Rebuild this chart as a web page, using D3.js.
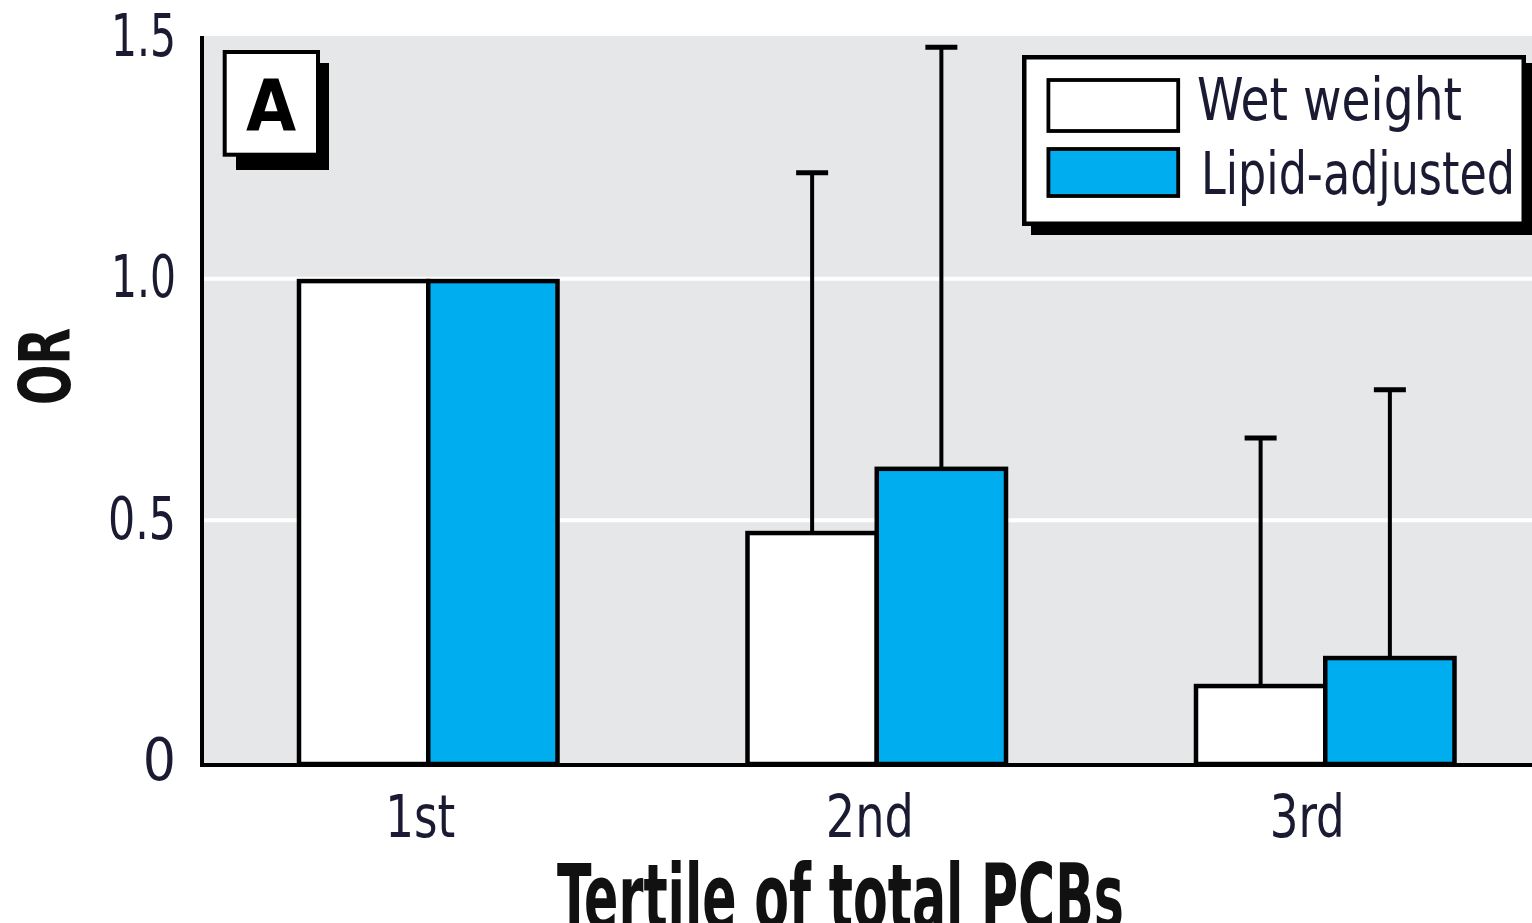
<!DOCTYPE html>
<html><head><meta charset="utf-8">
<script src="https://cdn.jsdelivr.net/npm/d3@7"></script>
<style>html,body{margin:0;padding:0;background:#fff;overflow:hidden}</style>
</head><body>
<svg id="c" width="1532" height="923"></svg>
<script>
// ---- data ----
const categories = ["1st", "2nd", "3rd"];
const series = ["Wet weight", "Lipid-adjusted"];
const wetWeight = [1.0, 0.478, 0.161];
const lipidAdjusted = [1.0, 0.611, 0.219];
const wetUpper = [null, 1.22, 0.67];
const lipidUpper = [null, 1.48, 0.77];
const yTicks = [0, 0.5, 1.0, 1.5];
const yTickLabels = ["0", "0.5", "1.0", "1.5"];
const gridValues = [0.5, 1.0];
const xTitle = "Tertile of total PCBs";
const yTitle = "OR";
const panelLabel = "A";

// ---- style ----
const FONT = "'Liberation Sans Narrow','DejaVu Sans Condensed','Arial Narrow',sans-serif";
const BLUE = "#00adee";
const GRAY = "#e6e7e9";
const TXT = "#1a1a33";
const sw = 4.5;
const yLabelWidths = [null, 68, 65, 65];   // text widths (style)
const xLabelWidths = [70, 88, 75];
const xLabelShift = [-8, -7, -18];

const svg = d3.select("#c");
const y = d3.scaleLinear().domain([0, 1.5]).range([761.5, 37.5]);
const x0 = d3.scaleBand().domain(categories).range([204, 1549.5])
  .paddingInner(0.4136).paddingOuter(0.2068);
const x1 = d3.scaleBand().domain(series).range([sw / 2, x0.bandwidth() - sw / 2]);
const fills = { "Wet weight": "#ffffff", "Lipid-adjusted": BLUE };
const values = { "Wet weight": wetWeight, "Lipid-adjusted": lipidAdjusted };
const uppers = { "Wet weight": wetUpper, "Lipid-adjusted": lipidUpper };

// plot background
svg.append("rect").attr("x", 204).attr("y", y(1.5) - 1.5)
  .attr("width", 1532 - 204).attr("height", 763 - (y(1.5) - 1.5)).attr("fill", GRAY);

// gridlines
svg.selectAll(".grid").data(gridValues).enter().append("line")
  .attr("x1", 204).attr("x2", 1532)
  .attr("y1", d => y(d)).attr("y2", d => y(d))
  .attr("stroke", "#fff").attr("stroke-width", 4);

const rows = [];
categories.forEach((c, i) => series.forEach(s => rows.push({ c, s, v: values[s][i], u: uppers[s][i] })));

// error bars
const eb = svg.append("g");
rows.filter(d => d.u != null).forEach(d => {
  const xc = x0(d.c) + x1(d.s) + x1.bandwidth() / 2;
  eb.append("line").attr("x1", xc).attr("x2", xc)
    .attr("y1", y(d.v) + sw).attr("y2", y(d.u))
    .attr("stroke", "#000").attr("stroke-width", 4);
  eb.append("line").attr("x1", xc - 16).attr("x2", xc + 16)
    .attr("y1", y(d.u)).attr("y2", y(d.u))
    .attr("stroke", "#000").attr("stroke-width", 5);
});

// bars
svg.append("g").selectAll("rect").data(rows).enter().append("rect")
  .attr("x", d => x0(d.c) + x1(d.s))
  .attr("y", d => y(d.v) + sw / 2)
  .attr("width", x1.bandwidth())
  .attr("height", d => 764 - (y(d.v) + sw / 2))
  .attr("fill", d => fills[d.s])
  .attr("stroke", "#000").attr("stroke-width", sw);

// axis lines
svg.append("line").attr("x1", 202).attr("x2", 202).attr("y1", 36).attr("y2", 767)
  .attr("stroke", "#000").attr("stroke-width", 4);
svg.append("line").attr("x1", 200).attr("x2", 1532).attr("y1", 765).attr("y2", 765)
  .attr("stroke", "#000").attr("stroke-width", 4);

// y axis ticks
const yAxis = svg.append("g").attr("transform", "translate(202,0)")
  .call(d3.axisLeft(y).tickValues(yTicks).tickFormat((d, i) => yTickLabels[i])
    .tickSize(0).tickPadding(26));
yAxis.select(".domain").remove();
yAxis.selectAll("text").attr("font-family", FONT).attr("font-size", 58)
  .attr("fill", TXT).attr("dy", "0.31em")
  .each(function (d, i) {
    if (yLabelWidths[i]) d3.select(this).attr("textLength", yLabelWidths[i]).attr("lengthAdjust", "spacingAndGlyphs");
  });

// x axis ticks
const xAxis = svg.append("g").attr("transform", "translate(0,765)")
  .call(d3.axisBottom(x0).tickSize(0).tickPadding(31));
xAxis.select(".domain").remove();
xAxis.selectAll("text").attr("font-family", FONT).attr("font-size", 58)
  .attr("fill", TXT)
  .attr("dx", (d, i) => xLabelShift[i])
  .attr("textLength", (d, i) => xLabelWidths[i]).attr("lengthAdjust", "spacingAndGlyphs");

// axis titles
svg.append("text").attr("x", 840.5).attr("y", 929).attr("text-anchor", "middle")
  .attr("font-family", FONT).attr("font-weight", "bold").attr("font-size", 90)
  .attr("textLength", 567).attr("lengthAdjust", "spacingAndGlyphs")
  .attr("fill", "#111").text(xTitle);
svg.append("text").attr("transform", "translate(70,366.5) rotate(-90)")
  .attr("text-anchor", "middle")
  .attr("font-family", FONT).attr("font-weight", "bold").attr("font-size", 72)
  .attr("textLength", 77).attr("lengthAdjust", "spacingAndGlyphs")
  .attr("fill", "#111").text(yTitle);

// panel label
svg.append("rect").attr("x", 236).attr("y", 63).attr("width", 93).attr("height", 107).attr("fill", "#000");
svg.append("rect").attr("x", 224.7).attr("y", 52).attr("width", 93.3).attr("height", 102.7)
  .attr("fill", "#fff").attr("stroke", "#000").attr("stroke-width", 4);
svg.append("text").attr("x", 271).attr("y", 130).attr("text-anchor", "middle")
  .attr("font-family", FONT).attr("font-weight", "bold").attr("font-size", 72)
  .attr("fill", "#000").text(panelLabel);

// legend
const lg = svg.append("g");
lg.append("rect").attr("x", 1031).attr("y", 63).attr("width", 504).attr("height", 172).attr("fill", "#000");
lg.append("rect").attr("x", 1024.25).attr("y", 57.25).attr("width", 499.5).attr("height", 166.5)
  .attr("fill", "#fff").attr("stroke", "#000").attr("stroke-width", 4.5);
const legRows = [
  { s: series[0], ry: 80, rh: 51, ty: 120, tx: 1197, tl: 265 },
  { s: series[1], ry: 149, rh: 47, ty: 194, tx: 1201, tl: 314 }
];
legRows.forEach(r => {
  lg.append("rect").attr("x", 1048.4).attr("y", r.ry).attr("width", 129.8).attr("height", r.rh)
    .attr("fill", fills[r.s]).attr("stroke", "#000").attr("stroke-width", 3.8);
  lg.append("text").attr("x", r.tx).attr("y", r.ty)
    .attr("font-family", FONT).attr("font-size", 58).attr("fill", TXT)
    .attr("textLength", r.tl).attr("lengthAdjust", "spacingAndGlyphs").text(r.s);
});
</script>
</body></html>
